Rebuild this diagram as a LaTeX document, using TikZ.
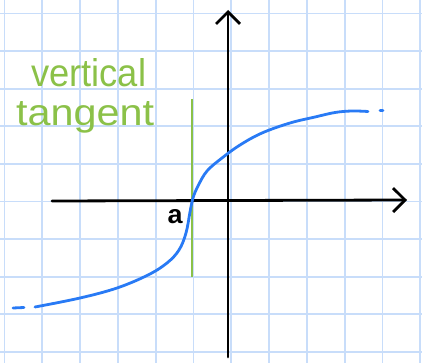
\documentclass[tikz,border=0pt]{standalone}
\usepackage{fontspec}
\setmainfont{Liberation Sans}
\usetikzlibrary{arrows.meta}
\definecolor{gridblue}{RGB}{200,221,250}
\definecolor{curveblue}{RGB}{40,122,245}
\definecolor{tgreen}{RGB}{139,193,72}
\tikzset{
  gridline/.style={gridblue, line width=1.8pt},
  axisline/.style={black, line width=2.8pt, line cap=round, -{Straight Barb[length=12pt,width=24pt,line width=2.8pt]}},
  curveline/.style={curveblue, line width=2.8pt, line cap=round},
  tangentline/.style={tgreen, line width=2.8pt},
  greentext/.style={tgreen, inner sep=0pt, anchor=base west},
}
\begin{document}
\begin{tikzpicture}[x=1pt,y=-1pt]
\useasboundingbox (0,0) rectangle (422,363);
\fill[white] (0,0) rectangle (422,363);
% grid
\foreach \i in {0,...,11} {
  \draw[gridline] ({4.4+37.8*\i},0) -- ({4.4+37.8*\i},363);
}
\foreach \j in {0,...,9} {
  \draw[gridline] (0,{13.5+37.6*\j}) -- (422,{13.5+37.6*\j});
}
% axes
\coordinate (xl) at (52,201);
\coordinate (xr) at (407,200);
\coordinate (yb) at (228,357);
\coordinate (yt) at (228,10);
\draw[axisline] (xl) -- (xr);
\draw[axisline] (yb) -- (yt);
% vertical tangent
\coordinate (tt) at (192,99);
\coordinate (tb) at (192,277);
\draw[tangentline] (tt) -- (tb);
% curve
\coordinate (d1a) at (13,308);
\coordinate (d1b) at (24,307.5);
\draw[curveline] (d1a) -- (d1b);
\draw[curveline] plot[smooth, tension=0.6] coordinates {
 (35,307) (80,298) (117,288) (148,275) (167,263) (179,250) (186,233)
 (190,212) (193,198) (198,186) (207,171) (222,158) (240,145) (262,133)
 (290,123) (315,117) (335,112.5) (352,111) (368,111.5)};
\coordinate (d2a) at (380,110.5);
\coordinate (d2b) at (383,110.5);
\draw[curveline] (d2a) -- (d2b);
% labels
\node[greentext] (lv) at (31,87) {\resizebox{115pt}{28pt}{vertical}};
\node[greentext] (lt) at (16,126) {\resizebox{138pt}{24pt}{tangent}};
\node[inner sep=0pt, anchor=base] (la) at (175,223) {\resizebox{15pt}{14pt}{\bfseries a}};
\end{tikzpicture}
\end{document}
